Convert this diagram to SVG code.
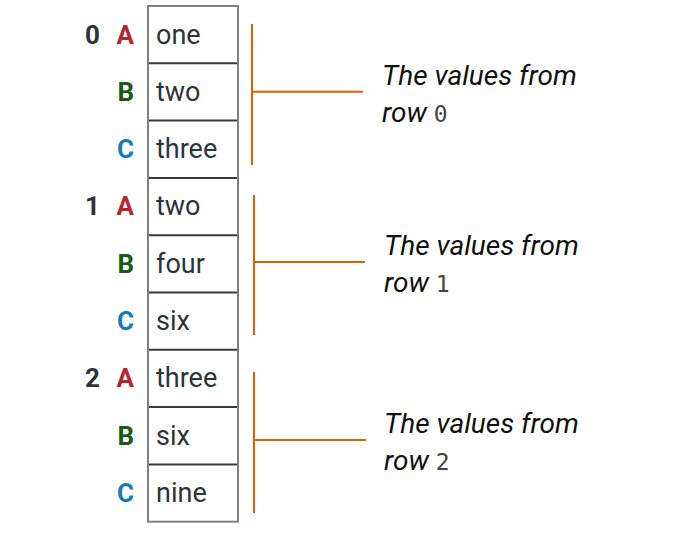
<svg xmlns="http://www.w3.org/2000/svg" width="682" height="553" viewBox="0 0 682 553">
<style>
.cell{font-family:Roboto,"Liberation Sans",sans-serif;font-size:27px;fill:#2e3338}
.num{font-family:Roboto,"Liberation Sans",sans-serif;font-size:26px;font-weight:bold;fill:#2e3338;text-anchor:end}
.lab{font-family:Roboto,"Liberation Sans",sans-serif;font-size:26px;font-weight:bold;text-anchor:end}
.a{fill:#b5252d}.b{fill:#195a14}.c{fill:#1a79b8}
.div{stroke:#3a3a3a;stroke-width:2}
.note{font-family:Roboto,"Liberation Sans",sans-serif;font-size:28px;font-style:italic;fill:#111}
.mono{font-family:"DejaVu Sans Mono","Liberation Mono",monospace;font-size:23px;font-style:normal;fill:#444}
.br{stroke:#dd6100;stroke-width:2;fill:none}
</style>
<rect width="682" height="553" fill="#fff"/>
<g id="table">
<line class="div" x1="148" y1="63.3" x2="238" y2="63.3"/>
<line class="div" x1="148" y1="120.6" x2="238" y2="120.6"/>
<line class="div" x1="148" y1="177.9" x2="238" y2="177.9"/>
<line class="div" x1="148" y1="235.2" x2="238" y2="235.2"/>
<line class="div" x1="148" y1="292.5" x2="238" y2="292.5"/>
<line class="div" x1="148" y1="349.8" x2="238" y2="349.8"/>
<line class="div" x1="148" y1="407.1" x2="238" y2="407.1"/>
<line class="div" x1="148" y1="464.4" x2="238" y2="464.4"/>
<rect x="148" y="6" width="90" height="515.7" fill="none" stroke="#808080" stroke-width="2"/>
</g>
<g id="row0">
<text class="num" x="100" y="43.5">0</text>
<text class="lab a" x="134" y="43.5">A</text>
<text class="cell" x="156" y="43.5">one</text>
<text class="lab b" x="134" y="100.8">B</text>
<text class="cell" x="156" y="100.8">two</text>
<text class="lab c" x="134" y="158.1">C</text>
<text class="cell" x="156" y="158.1">three</text>
</g>
<g id="row1">
<text class="num" x="100" y="215.4">1</text>
<text class="lab a" x="134" y="215.4">A</text>
<text class="cell" x="156" y="215.4">two</text>
<text class="lab b" x="134" y="272.7">B</text>
<text class="cell" x="156" y="272.7">four</text>
<text class="lab c" x="134" y="330">C</text>
<text class="cell" x="156" y="330">six</text>
</g>
<g id="row2">
<text class="num" x="100" y="387.3">2</text>
<text class="lab a" x="134" y="387.3">A</text>
<text class="cell" x="156" y="387.3">three</text>
<text class="lab b" x="134" y="444.6">B</text>
<text class="cell" x="156" y="444.6">six</text>
<text class="lab c" x="134" y="501.9">C</text>
<text class="cell" x="156" y="501.9">nine</text>
</g>
<g id="connectors">
<path class="br" d="M252 24V165M252 91.7H363"/>
<path class="br" d="M254 195V335M254 262H365"/>
<path class="br" d="M254 372V513M254 440H366"/>
</g>
<g id="note0">
<text class="note" x="382" y="85">The values from</text>
<text class="note" x="382" y="122">row <tspan class="mono">0</tspan></text>
</g>
<g id="note1">
<text class="note" x="384" y="255">The values from</text>
<text class="note" x="384" y="292">row <tspan class="mono">1</tspan></text>
</g>
<g id="note2">
<text class="note" x="384" y="433">The values from</text>
<text class="note" x="384" y="470">row <tspan class="mono">2</tspan></text>
</g>
</svg>
